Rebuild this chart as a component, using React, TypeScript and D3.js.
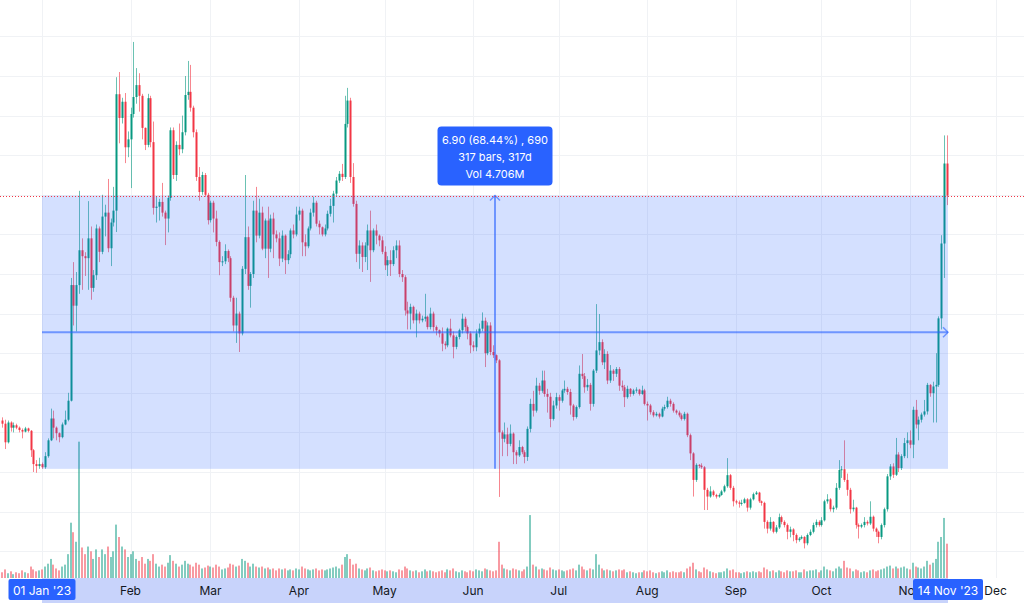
import React, { useEffect, useRef } from "react";
import * as d3 from "d3";

// daily candles, 18 Dec 2022 .. 14 Nov 2023 (open = previous close)
const firstOpen = 11.3;

const closes = [
  11.22, 10.75, 11.25, 11.12, 11.18, 11.12, 11.06, 11.02, 11.10, 11.04,
  10.55, 10.20, 10.15, 10.20, 10.12, 10.40, 10.80, 11.35, 11.12, 10.98,
  10.88, 11.20, 11.32, 11.80, 14.72, 14.20, 14.72, 15.60, 15.45, 15.40,
  15.90, 14.65, 14.97, 16.15, 15.56, 16.45, 16.55, 15.65, 16.30, 16.60,
  19.54, 18.94, 19.35, 18.20, 18.40, 19.04, 19.47, 19.77, 19.50, 18.69,
  18.26, 19.44, 18.33, 16.67, 16.70, 16.82, 16.55, 16.40, 16.92, 18.63,
  17.50, 18.26, 18.15, 18.58, 19.52, 19.60, 19.20, 18.58, 17.45, 17.07,
  17.50, 17.00, 16.36, 16.80, 16.40, 15.81, 15.30, 15.32, 15.58, 15.40,
  14.40, 13.70, 14.00, 13.50, 15.13, 15.93, 14.70, 15.00, 16.60, 15.97,
  16.55, 15.64, 16.35, 15.64, 16.40, 16.00, 15.90, 15.39, 15.97, 15.35,
  15.50, 16.10, 16.00, 16.50, 16.60, 15.80, 15.70, 16.15, 16.55, 16.80,
  16.27, 16.18, 16.00, 16.15, 16.52, 16.72, 17.03, 17.36, 17.53, 17.45,
  18.79, 19.38, 17.45, 16.77, 15.51, 15.72, 15.43, 15.72, 16.10, 15.60,
  16.10, 15.97, 15.85, 15.56, 15.22, 15.35, 15.25, 15.60, 15.72, 15.00,
  14.92, 14.08, 14.00, 14.17, 13.83, 14.00, 13.83, 13.87, 13.92, 13.66,
  14.00, 13.66, 13.58, 13.50, 13.24, 13.20, 13.62, 13.45, 13.16, 13.41,
  13.58, 13.87, 13.66, 13.50, 13.20, 13.15, 13.50, 13.62, 13.82, 13.00,
  13.70, 13.03, 12.95, 12.82, 11.00, 10.84, 10.95, 10.71, 10.97, 10.50,
  10.42, 10.63, 10.50, 10.38, 11.09, 11.72, 11.55, 12.18, 12.05, 12.31,
  11.97, 11.90, 11.34, 11.68, 11.89, 11.80, 12.06, 12.10, 12.02, 11.68,
  11.39, 11.64, 12.48, 12.42, 12.14, 12.20, 11.72, 12.56, 13.07, 13.28,
  12.77, 12.98, 12.31, 12.56, 12.48, 12.60, 12.18, 12.14, 11.89, 12.10,
  11.97, 12.06, 12.08, 11.97, 12.06, 11.72, 11.68, 11.51, 11.43, 11.47,
  11.40, 11.60, 11.64, 11.80, 11.72, 11.55, 11.50, 11.43, 11.34, 11.47,
  10.93, 10.47, 9.80, 10.18, 10.16, 10.12, 9.55, 9.38, 9.51, 9.42,
  9.38, 9.42, 9.51, 9.64, 9.92, 9.60, 9.26, 9.23, 9.20, 9.22,
  9.31, 9.10, 9.31, 9.44, 9.48, 9.26, 9.22, 8.74, 8.57, 8.74,
  8.49, 8.60, 8.86, 8.74, 8.66, 8.49, 8.55, 8.41, 8.28, 8.32,
  8.36, 8.20, 8.41, 8.49, 8.66, 8.74, 8.66, 8.78, 9.26, 9.31,
  9.06, 9.10, 9.60, 10.05, 10.07, 9.80, 9.55, 9.06, 9.10, 8.66,
  8.62, 8.66, 8.74, 8.70, 8.87, 8.57, 8.49, 8.36, 8.66, 9.06,
  9.89, 10.14, 9.93, 10.44, 10.10, 10.40, 10.73, 10.80, 10.69, 11.57,
  11.20, 11.32, 11.45, 11.53, 12.20, 11.99, 12.16, 12.20, 13.88, 15.77,
  17.79, 16.98,
];

const highs = [
  11.38, 11.32, 11.30, 11.28, 11.25, 11.22, 11.15, 11.10, 11.14, 11.12,
  11.06, 10.58, 10.30, 10.36, 10.24, 10.50, 10.85, 11.60, 11.55, 11.15,
  11.00, 11.25, 11.55, 12.00, 14.90, 15.30, 15.05, 17.10, 15.90, 15.55,
  16.84, 16.20, 15.10, 16.25, 16.20, 17.00, 16.75, 17.40, 16.40, 17.20,
  19.97, 20.10, 19.45, 19.57, 18.60, 19.20, 20.86, 20.20, 20.07, 19.55,
  18.70, 19.55, 19.50, 18.85, 16.95, 16.90, 17.30, 16.60, 16.98, 18.70,
  18.70, 18.35, 18.80, 19.00, 20.00, 20.38, 20.28, 19.25, 18.65, 17.70,
  17.58, 17.55, 17.05, 16.85, 16.85, 16.60, 15.85, 15.45, 15.75, 15.62,
  15.45, 14.45, 14.40, 14.05, 15.20, 17.50, 16.20, 15.05, 16.85, 17.20,
  16.90, 16.70, 16.40, 16.70, 16.50, 16.55, 16.10, 16.05, 16.10, 16.00,
  15.60, 16.15, 16.25, 16.70, 16.70, 16.65, 16.00, 16.20, 16.65, 16.95,
  16.85, 16.35, 16.20, 16.25, 16.60, 16.90, 17.10, 17.45, 17.60, 17.78,
  19.50, 19.70, 19.45, 17.80, 16.85, 15.85, 15.80, 15.80, 16.25, 16.60,
  16.15, 16.25, 16.00, 15.95, 15.70, 15.45, 15.60, 15.70, 15.85, 15.85,
  15.10, 14.97, 14.30, 14.25, 14.20, 14.10, 14.05, 13.95, 14.50, 13.95,
  14.15, 14.05, 13.70, 13.60, 13.65, 13.30, 13.65, 13.87, 13.55, 13.45,
  13.62, 14.00, 13.92, 13.70, 13.55, 13.30, 13.60, 13.75, 14.03, 13.90,
  13.78, 13.78, 13.20, 12.97, 12.85, 11.05, 11.25, 11.12, 11.20, 11.00,
  10.55, 10.80, 10.66, 10.55, 11.15, 11.85, 12.05, 12.38, 12.25, 12.56,
  12.56, 12.10, 12.00, 11.80, 12.00, 11.95, 12.10, 12.31, 12.15, 12.10,
  11.72, 11.68, 12.69, 12.98, 12.50, 12.35, 12.25, 12.60, 14.24, 13.99,
  13.35, 13.10, 13.05, 12.70, 12.60, 12.65, 12.65, 12.31, 12.20, 12.18,
  12.12, 12.10, 12.14, 12.10, 12.18, 12.10, 11.78, 11.72, 11.56, 11.52,
  11.50, 11.65, 11.70, 11.90, 11.85, 11.76, 11.58, 11.55, 11.48, 11.52,
  11.50, 10.97, 10.50, 10.22, 10.20, 10.22, 10.15, 9.60, 9.64, 9.55,
  9.45, 9.46, 9.55, 9.68, 10.35, 9.95, 9.65, 9.30, 9.28, 9.30,
  9.35, 9.34, 9.35, 9.48, 9.52, 9.50, 9.28, 9.25, 8.78, 8.86,
  8.76, 8.66, 8.95, 8.90, 8.78, 8.70, 8.62, 8.58, 8.45, 8.36,
  8.40, 8.38, 8.45, 8.55, 8.72, 8.80, 8.78, 8.86, 9.30, 9.44,
  9.34, 9.15, 9.72, 10.30, 10.15, 10.80, 9.96, 9.60, 9.30, 9.12,
  8.70, 8.70, 8.86, 8.78, 9.26, 8.90, 8.60, 8.52, 8.70, 9.10,
  9.95, 10.20, 10.22, 10.86, 10.50, 10.45, 10.86, 11.00, 11.05, 11.65,
  11.82, 11.40, 11.50, 11.82, 12.25, 12.22, 12.28, 13.00, 13.93, 15.98,
  18.50, 18.50,
];

const lows = [
  11.12, 10.58, 10.72, 11.02, 11.00, 11.08, 11.00, 10.85, 11.00, 11.00,
  10.38, 10.00, 9.98, 10.08, 10.08, 10.08, 10.36, 10.78, 10.85, 10.80,
  10.75, 10.85, 11.18, 11.28, 11.78, 13.70, 13.55, 14.50, 14.60, 14.95,
  14.60, 14.35, 14.55, 14.85, 15.30, 15.50, 15.95, 15.55, 15.20, 16.20,
  16.06, 18.30, 18.80, 17.80, 17.95, 17.17, 18.95, 19.30, 19.10, 18.40,
  18.13, 18.20, 18.20, 16.50, 16.30, 16.35, 16.45, 15.73, 16.05, 16.85,
  17.40, 17.35, 18.00, 18.05, 18.50, 19.40, 19.10, 18.45, 17.35, 16.85,
  17.00, 16.95, 16.25, 16.30, 16.05, 15.70, 14.97, 15.20, 15.25, 15.30,
  14.30, 13.55, 13.26, 13.03, 13.45, 15.00, 14.60, 14.15, 14.90, 15.80,
  15.90, 15.60, 15.40, 14.90, 15.55, 15.40, 15.80, 15.20, 15.30, 15.00,
  15.25, 15.40, 15.90, 15.95, 16.35, 15.45, 15.45, 15.65, 16.10, 16.45,
  16.20, 16.00, 15.95, 15.95, 16.10, 16.45, 16.30, 16.95, 17.30, 17.35,
  17.40, 18.70, 17.30, 16.70, 15.30, 15.13, 15.05, 15.30, 15.10, 14.80,
  15.55, 15.75, 15.70, 15.50, 15.10, 14.95, 14.95, 15.20, 15.40, 14.92,
  14.80, 13.95, 13.60, 13.60, 13.75, 13.40, 13.75, 13.78, 13.80, 13.60,
  13.60, 13.55, 13.45, 13.40, 13.05, 13.10, 13.15, 13.40, 12.87, 13.10,
  13.35, 13.50, 13.55, 13.35, 13.00, 13.05, 13.05, 13.40, 13.55, 12.65,
  12.95, 12.95, 12.88, 12.75, 9.37, 10.40, 10.75, 10.40, 10.65, 10.20,
  10.20, 10.38, 10.45, 10.22, 10.28, 11.00, 11.40, 11.50, 11.95, 12.00,
  11.90, 11.50, 11.13, 11.30, 11.60, 11.55, 11.75, 12.00, 11.95, 11.45,
  11.30, 11.35, 11.60, 12.35, 12.00, 12.05, 11.55, 11.65, 12.50, 12.95,
  12.70, 12.60, 12.22, 12.25, 12.30, 12.40, 12.05, 12.05, 11.64, 11.85,
  11.90, 11.93, 12.00, 11.93, 11.95, 11.68, 11.30, 11.45, 11.38, 11.40,
  11.35, 11.38, 11.55, 11.60, 11.65, 11.50, 11.45, 11.38, 11.30, 11.30,
  10.88, 10.30, 9.38, 9.75, 10.10, 10.08, 9.04, 9.04, 9.35, 9.38,
  9.33, 9.35, 9.40, 9.48, 9.60, 9.55, 9.13, 9.18, 9.10, 9.15,
  9.20, 9.00, 9.05, 9.28, 9.42, 9.22, 9.15, 8.57, 8.45, 8.52,
  8.45, 8.45, 8.56, 8.68, 8.60, 8.30, 8.35, 8.25, 8.20, 8.24,
  8.30, 8.07, 8.15, 8.38, 8.45, 8.60, 8.62, 8.62, 8.75, 9.20,
  9.00, 8.98, 9.05, 9.55, 9.85, 9.75, 9.40, 8.95, 9.00, 8.57,
  8.32, 8.58, 8.60, 8.65, 8.66, 8.50, 8.36, 8.20, 8.30, 8.60,
  9.00, 9.80, 9.85, 9.90, 10.00, 10.05, 10.35, 10.35, 10.60, 10.35,
  11.10, 10.80, 11.25, 11.40, 11.45, 11.90, 11.25, 11.25, 12.15, 13.60,
  14.90, 16.74,
];

// volume, thousands
const volumes = [
  6, 9, 5, 7, 4, 6, 5, 8, 6, 5, 12, 9, 7, 8,
  9, 12, 15, 20, 14, 10, 8, 12, 14, 25,
  58, 48, 38, 143, 32, 25, 33, 28, 20, 30,
  22, 30, 25, 33, 22, 28, 56, 43, 33, 30,
  22, 25, 28, 20, 18, 22, 15, 20, 18, 25,
  15, 12, 14, 12, 16, 24, 18, 15, 12, 14,
  18, 15, 14, 12, 16, 14, 10, 11, 13, 12,
  11, 14, 12, 9, 10, 11, 15, 14, 12, 13,
  20, 18, 16, 12, 15, 12, 11, 12, 10, 11,
  9, 10, 8, 10, 9, 10, 8, 9, 8, 10,
  9, 12, 10, 9, 8, 9, 10, 8, 9, 8,
  9, 10, 11, 12, 10, 14, 22, 25, 20, 14,
  15, 10, 9, 8, 10, 11, 8, 7, 8, 9,
  8, 7, 8, 7, 6, 9, 8, 12, 10, 8,
  7, 8, 6, 7, 9, 7, 8, 7, 6, 7,
  8, 6, 9, 8, 10, 7, 6, 8, 7, 6,
  8, 7, 9, 8, 7, 10, 9, 8, 7, 8,
  38, 14, 10, 9, 8, 10, 9, 8, 7, 9,
  12, 66, 14, 12, 9, 10, 9, 8, 11, 9,
  8, 9, 8, 7, 8, 9, 10, 8, 14, 12,
  9, 8, 10, 9, 25, 14, 10, 8, 9, 8,
  7, 8, 9, 8, 9, 6, 7, 6, 5, 6,
  6, 8, 7, 8, 6, 5, 6, 7, 6, 8,
  6, 7, 6, 6, 7, 6, 10, 12, 16, 9,
  7, 6, 11, 9, 7, 6, 5, 6, 6, 7,
  10, 8, 9, 6, 6, 5, 6, 7, 6, 7,
  6, 7, 6, 11, 9, 7, 8, 6, 8, 7,
  6, 8, 7, 7, 8, 6, 6, 9, 7, 8,
  8, 9, 6, 8, 12, 9, 8, 7, 10, 12,
  10, 18, 11, 10, 7, 9, 8, 6, 7, 6,
  8, 9, 7, 8, 9, 10, 12, 13, 10, 12,
  10, 11, 12, 10, 9, 16, 12, 11, 10, 12,
  18, 14, 16, 20, 38, 43, 63, 36,
];

// measurement tool
const measureStart = new Date(Date.UTC(2023, 0, 1));
const measureEnd = new Date(Date.UTC(2023, 10, 14));
const measureLow = 10.08;
const measureHigh = 16.98;
const measureLines = ["6.90 (68.44%) , 690", "317 bars, 317d", "Vol 4.706M"];
const startLabel = "01 Jan '23";
const endLabel = "14 Nov '23";
const lastPrice = 16.98;

const UP = "#089981";
const DOWN = "#f23645";
const BLUE = "#2962ff";
const FONT = "Inter, 'Noto Sans', sans-serif";

export default function App() {
  const svgRef = useRef<SVGSVGElement | null>(null);

  useEffect(() => {
    document.body.style.margin = "0";
    if (!svgRef.current) return;
    const svg = d3.select(svgRef.current);
    svg.selectAll("*").remove();

    const width = 1024;
    const height = 603;
    const axisTop = 578;

    const firstDay = new Date(Date.UTC(2022, 11, 18));
    const data = closes.map((c, i) => {
      const o = i === 0 ? firstOpen : closes[i - 1];
      return {
        date: d3.utcDay.offset(firstDay, i),
        o,
        c,
        h: Math.max(highs[i], o, c),
        l: Math.min(lows[i], o, c),
        v: volumes[i],
      };
    });

    const x = d3.scaleUtc().domain([measureStart, measureEnd]).range([42, 947]);
    const y = d3.scaleLinear().domain([10, 20]).range([472, 76]);
    const yVol = d3.scaleLinear().domain([0, 150]).range([axisTop, axisTop - 143]);

    svg.append("rect").attr("width", width).attr("height", height).attr("fill", "#ffffff");

    // grid
    const grid = svg.append("g").attr("stroke", "#f0f2f5").attr("stroke-width", 1);
    d3.range(8, 22).forEach((p) => {
      const yy = Math.round(y(p)) + 0.5;
      grid.append("line").attr("x1", 0).attr("x2", width).attr("y1", yy).attr("y2", yy);
    });
    const months = d3.utcMonth.range(new Date(Date.UTC(2023, 0, 1)), new Date(Date.UTC(2023, 11, 2)));
    months.forEach((m) => {
      const xx = Math.round(x(m)) + 0.5;
      grid.append("line").attr("x1", xx).attr("x2", xx).attr("y1", 0).attr("y2", axisTop);
    });

    // volume
    svg
      .append("g")
      .selectAll("rect")
      .data(data)
      .join("rect")
      .attr("x", (d) => Math.round(x(d.date)) - 1)
      .attr("width", 2)
      .attr("y", (d) => yVol(d.v))
      .attr("height", (d) => axisTop - yVol(d.v))
      .attr("fill", (d) => (d.c >= d.o ? UP : DOWN))
      .attr("opacity", 0.5);

    // candles
    const candles = svg.append("g").selectAll("g").data(data).join("g");
    candles
      .append("line")
      .attr("x1", (d) => Math.round(x(d.date)) + 0.5)
      .attr("x2", (d) => Math.round(x(d.date)) + 0.5)
      .attr("y1", (d) => y(d.h))
      .attr("y2", (d) => y(d.l))
      .attr("stroke", (d) => (d.c >= d.o ? UP : DOWN))
      .attr("stroke-opacity", 0.6)
      .attr("stroke-width", 1);
    candles
      .append("rect")
      .attr("x", (d) => Math.round(x(d.date)) - 0.5)
      .attr("width", 2)
      .attr("y", (d) => y(Math.max(d.o, d.c)))
      .attr("height", (d) => Math.max(1, Math.abs(y(d.o) - y(d.c))))
      .attr("fill", (d) => (d.c >= d.o ? UP : DOWN));

    // measurement box
    const mx0 = x(measureStart);
    const mx1 = x(measureEnd) + 1;
    const my0 = y(measureHigh);
    const my1 = y(measureLow);
    const mxMid = (mx0 + mx1) / 2;
    const myMid = (my0 + my1) / 2;
    svg
      .append("rect")
      .attr("x", mx0)
      .attr("y", my0)
      .attr("width", mx1 - mx0)
      .attr("height", my1 - my0)
      .attr("fill", BLUE)
      .attr("fill-opacity", 0.2);

    const arrows = svg
      .append("g")
      .attr("stroke", BLUE)
      .attr("stroke-opacity", 0.6)
      .attr("stroke-width", 2)
      .attr("fill", "none");
    arrows.append("line").attr("x1", mx0).attr("x2", mx1).attr("y1", myMid).attr("y2", myMid);
    arrows
      .append("path")
      .attr("d", `M${mx1 - 5},${myMid - 5} L${mx1},${myMid} L${mx1 - 5},${myMid + 5}`)
      .attr("stroke-width", 1.5);
    arrows.append("line").attr("x1", mxMid).attr("x2", mxMid).attr("y1", my1).attr("y2", my0);
    arrows
      .append("path")
      .attr("d", `M${mxMid - 5},${my0 + 5} L${mxMid},${my0} L${mxMid + 5},${my0 + 5}`)
      .attr("stroke-width", 1.5);

    // last price line
    svg
      .append("line")
      .attr("x1", 0)
      .attr("x2", width)
      .attr("y1", Math.round(y(lastPrice)) + 0.5)
      .attr("y2", Math.round(y(lastPrice)) + 0.5)
      .attr("stroke", DOWN)
      .attr("stroke-width", 1)
      .attr("stroke-dasharray", "1 2");

    // tooltip
    const tipW = 115;
    const tipH = 59;
    const tip = svg.append("g").attr("transform", `translate(${mxMid - tipW / 2},${my0 - 10 - tipH})`);
    tip.append("rect").attr("width", tipW).attr("height", tipH).attr("rx", 4).attr("fill", BLUE);
    tip
      .selectAll("text")
      .data(measureLines)
      .join("text")
      .attr("x", tipW / 2)
      .attr("y", (_, i) => 17 + i * 17)
      .attr("text-anchor", "middle")
      .attr("font-family", FONT)
      .attr("font-size", 11)
      .attr("fill", "#ffffff")
      .text((d) => d);

    // time axis
    svg
      .append("rect")
      .attr("x", mx0)
      .attr("y", axisTop)
      .attr("width", mx1 - mx0)
      .attr("height", height - axisTop)
      .attr("fill", "#c8d3fb");

    svg
      .append("g")
      .selectAll("text")
      .data(months.slice(1))
      .join("text")
      .attr("x", (d) => x(d))
      .attr("y", 595)
      .attr("text-anchor", "middle")
      .attr("font-family", FONT)
      .attr("font-size", 12)
      .attr("fill", "#131722")
      .text((d) => d3.utcFormat("%b")(d));

    const badge = (cx: number, label: string, w: number) => {
      const g = svg.append("g");
      g.append("rect")
        .attr("x", cx - w / 2)
        .attr("y", 579)
        .attr("width", w)
        .attr("height", 21)
        .attr("rx", 2)
        .attr("fill", BLUE);
      g.append("text")
        .attr("x", cx)
        .attr("y", 595)
        .attr("text-anchor", "middle")
        .attr("font-family", FONT)
        .attr("font-size", 12)
        .attr("fill", "#ffffff")
        .text(label);
    };
    badge(mx0, startLabel, 67);
    badge(mx1, endLabel, 70);
  }, []);

  return <svg ref={svgRef} width={1024} height={603} style={{ display: "block" }} />;
}
